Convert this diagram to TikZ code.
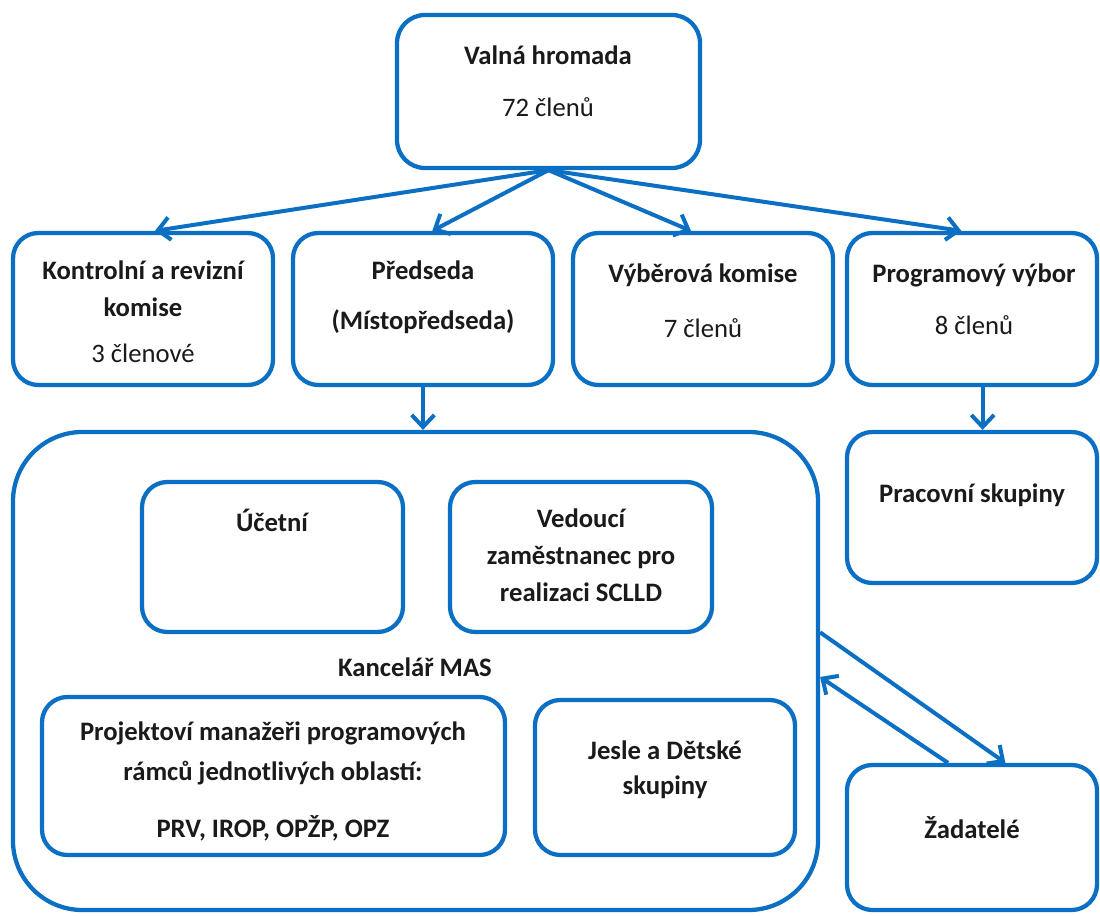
\documentclass[tikz,border=0pt]{standalone}
\usepackage{fontspec}
\setmainfont{Carlito}
\usetikzlibrary{arrows.meta}
\definecolor{orgblue}{HTML}{0B6FC3}
\definecolor{ink}{HTML}{1A1A1A}
\newcommand{\bx}[6]{\node[box,rounded corners=#6, minimum width={(#4-#2)*0.75pt}, minimum height={(#5-#3)*0.75pt}] (#1) at ({(#2+#4)/2},{(#3+#5)/2}) {};}
\begin{document}
\begin{tikzpicture}[x=0.75pt,y=-0.75pt,
  box/.style={draw=orgblue, line width=3.2pt, rectangle, inner sep=0pt},
  txt/.style={text=ink, font=\fontsize{20}{27.75}\selectfont\bfseries, inner sep=0pt, align=center},
  num/.style={text=ink, font=\fontsize{20}{27.75}\selectfont, inner sep=0pt, align=center},
  conn/.style={draw=orgblue, line width=3pt, -{Straight Barb[length=9pt,width=17pt,line width=3pt]}}
]
\useasboundingbox (0,0) rectangle (1100,916);
\fill[white] (0,0) rectangle (1100,916);
% boxes
\bx{valna}{397}{15}{700}{168}{21pt}
\bx{kontrol}{13}{233}{273}{385}{19pt}
\bx{predseda}{293}{233}{553}{385}{19pt}
\bx{vyber}{573}{233}{833}{385}{19pt}
\bx{program}{847}{233}{1097}{385}{19pt}
\bx{kancelar}{13}{432}{818}{910}{52pt}
\bx{ucetni}{142}{482}{403}{632}{19pt}
\bx{vedouci}{450}{482}{712}{632}{19pt}
\bx{projekt}{42}{697}{505}{855}{19pt}
\bx{jesle}{535}{700}{795}{855}{19pt}
\bx{pracovni}{847}{432}{1097}{583}{19pt}
\bx{zadatele}{847}{765}{1097}{910}{19pt}
% texts
\node[txt] (valna-t) at (548,55) {Valná hromada};
\node[num] (valna-n) at (548,107) {72 členů};
\node[txt] (kontrol-t) at (143,288.5) {Kontrolní a revizní\\komise};
\node[num] (kontrol-n) at (143,353) {3 členové};
\node[txt] (predseda-t) at (423,270) {Předseda};
\node[txt] (predseda-m) at (423,322) {(Místopředseda)};
\node[txt] (vyber-t) at (703,275) {Výběrová komise};
\node[num] (vyber-n) at (703,328) {7 členů};
\node[txt] (program-t) at (974,275) {Programový výbor};
\node[num] (program-n) at (974,325) {8 členů};
\node[txt] (ucetni-t) at (272,520) {Účetní};
\node[txt] (vedouci-t) at (581,555) {Vedoucí\\zaměstnanec pro\\realizaci SCLLD};
\node[txt] (kancelar-t) at (415,667) {Kancelář MAS};
\node[txt,font=\fontsize{20}{30}\selectfont\bfseries] (projekt-t) at (273,753) {Projektoví manažeři programových\\rámců jednotlivých oblastí:};
\node[txt] (projekt-p) at (273,828) {PRV, IROP, OPŽP, OPZ};
\node[txt,font=\fontsize{20}{26.25}\selectfont\bfseries] (jesle-t) at (665,769.5) {Jesle a Dětské\\skupiny};
\node[txt] (pracovni-t) at (972,495) {Pracovní skupiny};
\node[txt] (zadatele-t) at (972,828) {Žadatelé};
% connectors
\draw[conn] (valna.south) -- ([xshift=9pt]kontrol.north);
\draw[conn] (valna.south) -- ([xshift=7pt]predseda.north);
\draw[conn] (valna.south) -- ([xshift=-9pt]vyber.north);
\draw[conn] (valna.south) -- ([xshift=-8pt]program.north);
\draw[conn] (predseda.south) -- (predseda.south |- kancelar.north);
\draw[conn] ([xshift=8pt]program.south) -- ([xshift=8pt]pracovni.north);
\draw[conn] ([yshift=29pt]kancelar.east) -- ([xshift=25pt]zadatele.north);
\draw[conn] ([xshift=-18pt]zadatele.north) -- ([yshift=-4.5pt]kancelar.east);
\end{tikzpicture}
\end{document}
